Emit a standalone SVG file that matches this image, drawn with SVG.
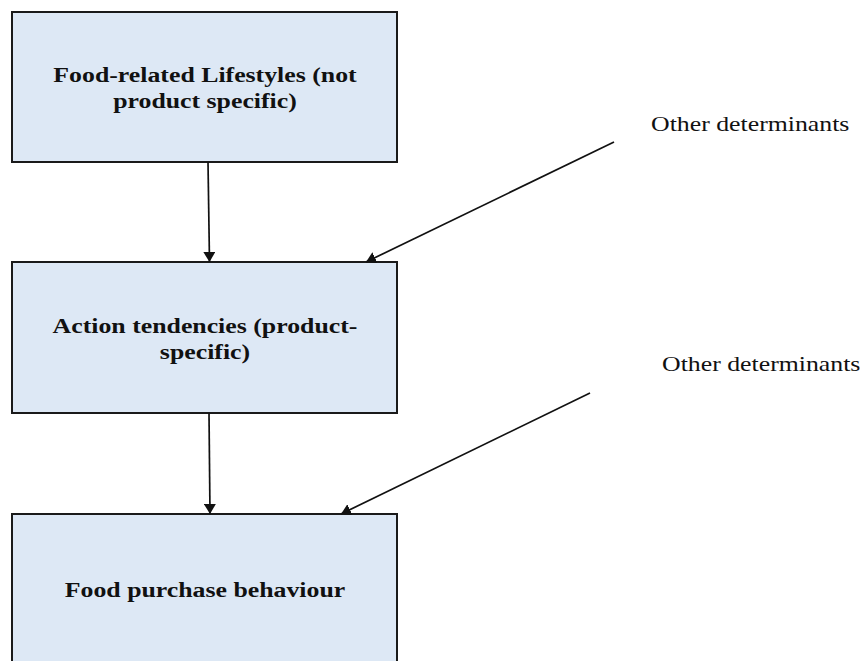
<svg xmlns="http://www.w3.org/2000/svg" width="861" height="661" viewBox="0 0 861 661">
  <style>
    .box { fill: #dde8f5; stroke: #1a1a1a; stroke-width: 2; }
    .title { font-family: "Liberation Serif", "Times New Roman", serif; font-weight: bold; font-size: 20px; fill: #111; text-anchor: middle; }
    .note { font-family: "Liberation Serif", "Times New Roman", serif; font-size: 20px; fill: #111; }
    .edge { stroke: #111; stroke-width: 1.7; fill: none; marker-end: url(#arrow); }
  </style>
  <defs>
    <marker id="arrow" viewBox="0 0 10 12" refX="10" refY="6" markerWidth="10" markerHeight="12" markerUnits="userSpaceOnUse" orient="auto">
      <path d="M0,0 L10,6 L0,12 z" fill="#111"/>
    </marker>
  </defs>

  <g id="node-lifestyles">
    <rect class="box" x="12" y="12" width="385" height="150"/>
    <text class="title" transform="translate(205,82) scale(1.29,1)">Food-related Lifestyles (not</text>
    <text class="title" transform="translate(205,108) scale(1.29,1)">product specific)</text>
  </g>

  <g id="node-action">
    <rect class="box" x="12" y="262" width="385" height="151"/>
    <text class="title" transform="translate(205,333) scale(1.29,1)">Action tendencies (product-</text>
    <text class="title" transform="translate(205,359) scale(1.29,1)">specific)</text>
  </g>

  <g id="node-purchase">
    <rect class="box" x="12" y="514" width="385" height="160"/>
    <text class="title" transform="translate(205,597) scale(1.29,1)">Food purchase behaviour</text>
  </g>

  <g id="label-determinants-1">
    <text class="note" transform="translate(651,131) scale(1.29,1)">Other determinants</text>
  </g>
  <g id="label-determinants-2">
    <text class="note" transform="translate(662,371) scale(1.29,1)">Other determinants</text>
  </g>

  <g id="connectors">
    <line class="edge" x1="208" y1="162" x2="209.5" y2="262"/>
    <line class="edge" x1="209" y1="413" x2="210" y2="514"/>
    <line class="edge" x1="614" y1="142" x2="366" y2="262"/>
    <line class="edge" x1="590" y1="393" x2="341" y2="514"/>
  </g>
</svg>
